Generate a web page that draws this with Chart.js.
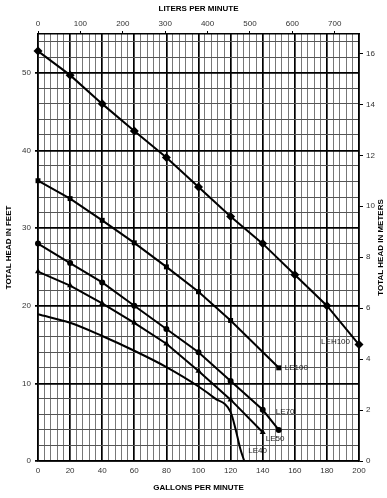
<!DOCTYPE html>
<html>
<head>
<meta charset="utf-8">
<script src="https://cdn.jsdelivr.net/npm/chart.js@4"></script>
<style>
  body { margin: 0; background: #fff; }
  canvas { display: block; }
</style>
</head>
<body>
<canvas id="pumpChart" width="387" height="498"></canvas>
<script>
// flow in gallons per minute, head in feet
const lehFlow = [0, 20, 40, 60, 80, 100, 120, 140, 160, 180, 200];
const lehHead = [52.8, 49.7, 46.0, 42.5, 39.1, 35.3, 31.5, 28.0, 24.0, 20.0, 15.0];

const le100Flow = [0, 20, 40, 60, 80, 100, 120, 150];
const le100Head = [36.1, 33.8, 31.0, 28.1, 25.0, 21.8, 18.1, 12.0];

const le70Flow = [0, 20, 40, 60, 80, 100, 120, 140, 150];
const le70Head = [28.0, 25.5, 23.0, 20.0, 17.0, 14.0, 10.3, 6.6, 4.0];

const le50Flow = [0, 20, 40, 60, 80, 100, 120, 140];
const le50Head = [24.4, 22.6, 20.3, 17.8, 15.1, 11.6, 7.9, 3.7];

const le40Flow = [0, 20, 40, 60, 80, 100, 110, 120, 123, 126, 128.5];
const le40Head = [18.9, 17.8, 16.1, 14.2, 12.1, 9.6, 8.1, 6.3, 4.2, 1.6, 0];

const seriesNames = ['LEH100', 'LE100', 'LE70', 'LE50', 'LE40'];

const GPM_MAX = 200;
const FT_MAX = 55;
const LPM_PER_GPM = 3.78541;
const M_PER_FT = 0.3048;

const FONT = "'Liberation Sans', Arial, sans-serif";

function pts(xs, ys) {
    return xs.map((x, i) => ({ x: x, y: ys[i] }));
}

function curve(label, xs, ys, style, radius) {
    return {
        label: label,
        data: pts(xs, ys),
        borderColor: '#000',
        backgroundColor: '#000',
        borderWidth: 2,
        pointStyle: style,
        pointRadius: radius,
        pointBorderWidth: 0,
        tension: 0,
        clip: 10
    };
}

const le40 = curve(seriesNames[4], le40Flow, le40Head, false, 0);
le40.cubicInterpolationMode = 'monotone';

// where each series name sits: anchor point index + pixel offset
const seriesLabels = [
    { ds: 0, idx: 10, dx: -9, dy: -3, align: 'right' },
    { ds: 1, idx: 7, dx: 6, dy: 0, align: 'left' },
    { ds: 2, idx: 7, dx: 13, dy: 2, align: 'left' },
    { ds: 3, idx: 7, dx: 3, dy: 7, align: 'left' },
    { ds: 4, idx: 9, dx: 8, dy: 2, align: 'left' }
];

const labelPlugin = {
    id: 'curveLabels',
    afterDatasetsDraw(chart) {
        const ctx = chart.ctx;
        const xs = chart.scales.x, ys = chart.scales.y;
        ctx.save();
        ctx.font = '8px ' + FONT;
        ctx.fillStyle = '#222';
        ctx.textBaseline = 'middle';
        seriesLabels.forEach(l => {
            const p = chart.data.datasets[l.ds].data[l.idx];
            ctx.textAlign = l.align;
            ctx.fillText(seriesNames[l.ds], xs.getPixelForValue(p.x) + l.dx, ys.getPixelForValue(p.y) + l.dy);
        });
        // right axis title reads bottom to top
        const a = chart.chartArea;
        ctx.translate(381, (a.top + a.bottom) / 2);
        ctx.rotate(-Math.PI / 2);
        ctx.textAlign = 'center';
        ctx.font = 'bold 8px ' + FONT;
        ctx.fillStyle = '#000';
        ctx.fillText('TOTAL HEAD IN METERS', 0, 0);
        ctx.restore();
    }
};

const tickFont = { family: FONT, size: 8 };
const titleFont = { family: FONT, size: 8, weight: 'bold' };

new Chart(document.getElementById('pumpChart'), {
    type: 'line',
    data: {
        datasets: [
            curve(seriesNames[0], lehFlow, lehHead, 'rectRot', 4.5),
            curve(seriesNames[1], le100Flow, le100Head, 'rect', 3.5),
            curve(seriesNames[2], le70Flow, le70Head, 'circle', 3),
            curve(seriesNames[3], le50Flow, le50Head, 'triangle', 3.5),
            le40
        ]
    },
    options: {
        responsive: false,
        devicePixelRatio: 1,
        animation: false,
        layout: { padding: 0 },
        plugins: {
            legend: { display: false },
            tooltip: { enabled: false }
        },
        scales: {
            x: {
                type: 'linear',
                position: 'bottom',
                min: 0,
                max: GPM_MAX,
                afterFit: s => { s.height = 37; },
                grid: {
                    color: c => c.tick.value % 20 === 0 ? '#000' : '#777',
                    lineWidth: c => c.tick.value % 20 === 0 ? 1.7 : 1,
                    drawTicks: false
                },
                border: { color: '#000', width: 1.5 },
                ticks: {
                    stepSize: 4,
                    autoSkip: false,
                    maxRotation: 0,
                    padding: 5,
                    font: tickFont,
                    color: '#333',
                    callback: v => v % 20 === 0 ? v : ''
                },
                title: { display: true, text: 'GALLONS PER MINUTE', align: 'center', font: titleFont, color: '#000', padding: { top: 0, bottom: 5 } }
            },
            x2: {
                type: 'linear',
                position: 'top',
                min: 0,
                max: GPM_MAX * LPM_PER_GPM,
                afterFit: s => { s.height = 34; },
                grid: { drawOnChartArea: false, tickLength: 3, color: '#000' },
                border: { color: '#000', width: 1.5 },
                ticks: {
                    stepSize: 100,
                    includeBounds: false,
                    autoSkip: false,
                    maxRotation: 0,
                    padding: 2,
                    font: tickFont,
                    color: '#333'
                },
                title: { display: true, text: 'LITERS PER MINUTE', font: titleFont, color: '#000', padding: { top: 4, bottom: 0 } }
            },
            y: {
                type: 'linear',
                position: 'left',
                min: 0,
                max: FT_MAX,
                afterFit: s => { s.width = 38; },
                grid: {
                    color: c => c.tick.value % 10 === 0 ? '#000' : '#555',
                    lineWidth: c => c.tick.value % 10 === 0 ? 1.7 : 1,
                    tickColor: c => c.tick.value % 10 === 0 ? '#000' : 'rgba(0,0,0,0)',
                    tickLength: 3
                },
                border: { color: '#000', width: 1.5 },
                ticks: {
                    stepSize: 2,
                    includeBounds: false,
                    autoSkip: false,
                    padding: 4,
                    font: tickFont,
                    color: '#333',
                    callback: v => v % 10 === 0 ? v : ''
                },
                title: { display: true, text: 'TOTAL HEAD IN FEET', font: titleFont, color: '#000', padding: { top: 4, bottom: 0 } }
            },
            y2: {
                type: 'linear',
                position: 'right',
                min: 0,
                max: FT_MAX * M_PER_FT,
                afterFit: s => { s.width = 28; },
                grid: { drawOnChartArea: false, tickLength: 4, color: '#000' },
                border: { color: '#000', width: 1.5 },
                ticks: {
                    stepSize: 2,
                    includeBounds: false,
                    autoSkip: false,
                    padding: 3,
                    font: tickFont,
                    color: '#333'
                }
            }
        }
    },
    plugins: [labelPlugin]
});
</script>
</body>
</html>
